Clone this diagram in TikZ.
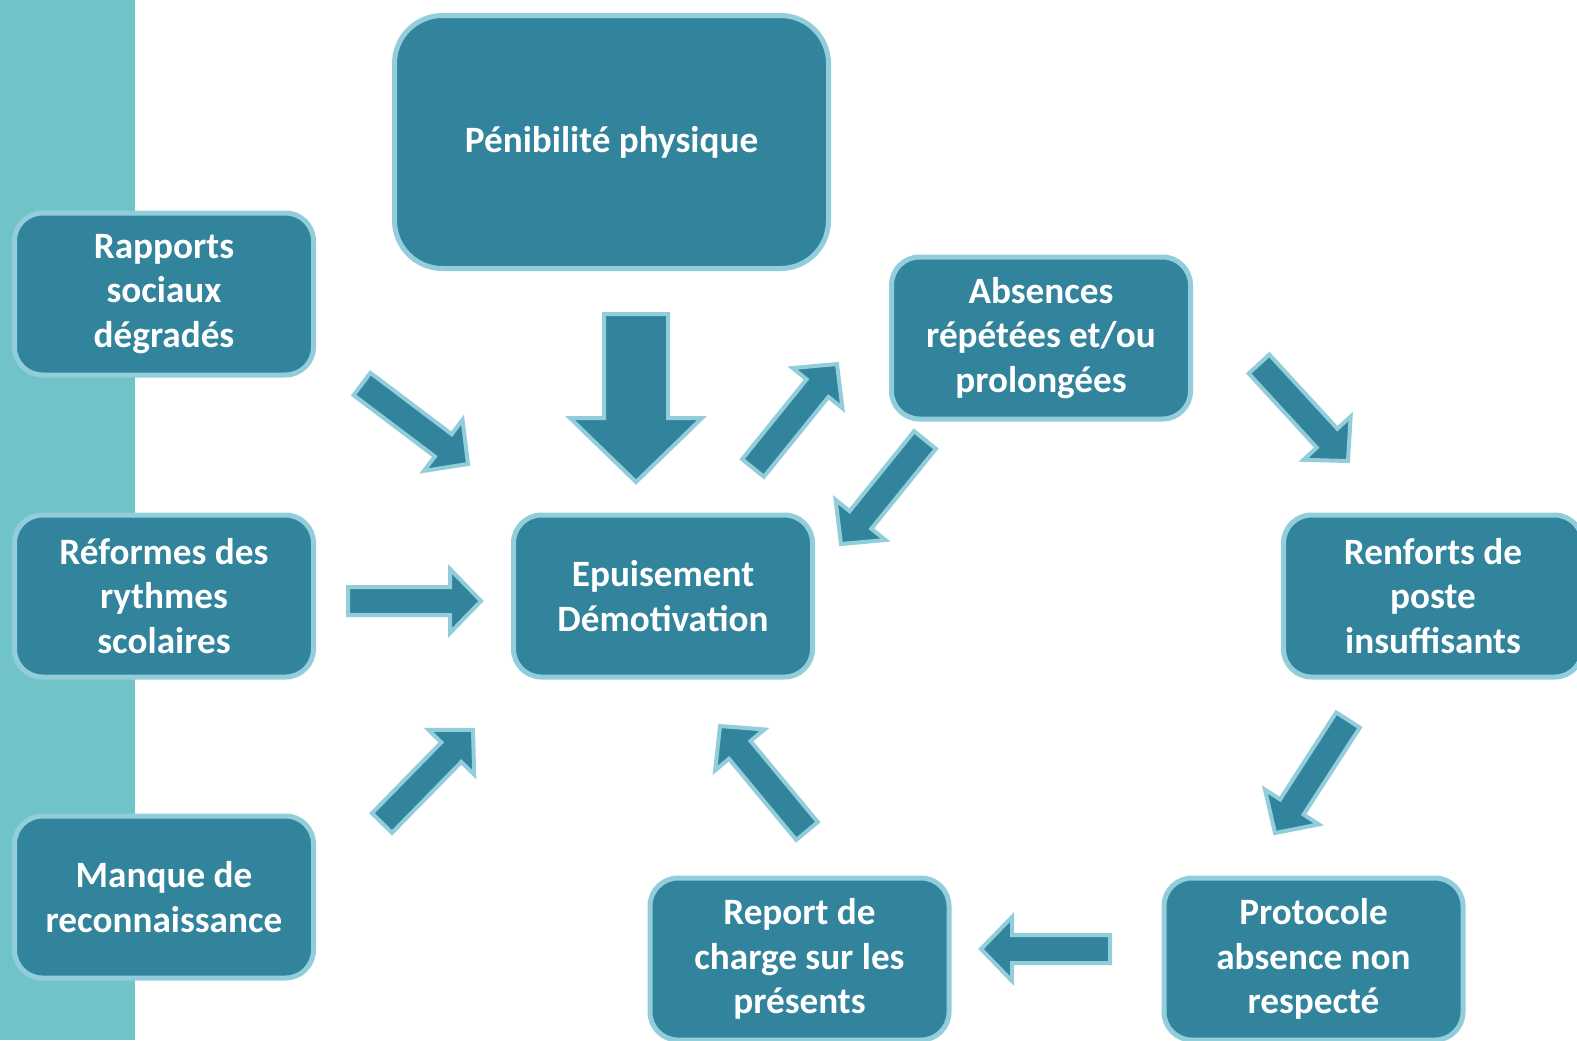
\documentclass[tikz,border=0pt]{standalone}
\usepackage{fontspec}
\setmainfont{Carlito}
\usetikzlibrary{calc}
\definecolor{boxfill}{RGB}{49,132,155}
\definecolor{boxline}{RGB}{146,205,220}
\definecolor{strip}{RGB}{112,196,200}
\tikzset{
  box/.style={draw=boxline, fill=boxfill, line width=2.5pt, rounded corners=14pt,
    minimum width=149.5pt, minimum height=81pt, align=center, text=white,
    font=\fontsize{18.6}{22.3}\selectfont\bfseries, inner sep=2pt},
  bigbox/.style={box, rounded corners=24pt, minimum width=217pt, minimum height=126.5pt},
  arrowstyle/.style={draw=boxline, fill=boxfill, line width=2pt, line join=miter},
}
\newcommand\blockarrow[5]{%
  \path ($(#2)!#5!(#1)$) coordinate (ab);
  \draw[arrowstyle] ($(#1)!#3!90:(#2)$) -- ($(ab)!#3!90:(#2)$) -- ($(ab)!#4!90:(#2)$)
    -- (#2) -- ($(ab)!#4!-90:(#2)$) -- ($(ab)!#3!-90:(#2)$) -- ($(#1)!#3!-90:(#2)$) -- cycle;}
\begin{document}
\begin{tikzpicture}[x=0.5pt, y=-0.5pt]
\useasboundingbox (0,0) rectangle (1577,1040);
\fill[white] (0,0) rectangle (1577,1040);
\fill[strip] (0,0) rectangle (135,1040);

\node[bigbox] (pen) at (611.5,142) {Pénibilité physique};
\node[box] (rap) at (164,294) {Rapports\\sociaux\\dégradés};
\node[box] (ref) at (164,596) {Réformes des\\rythmes\\scolaires};
\node[box] (man) at (164,897) {Manque de\\reconnaissance};
\node[box] (epu) at (663,596) {Epuisement\\Démotivation};
\node[box] (abs) at (1041,338) {Absences\\répétées et/ou\\prolongées};
\node[box] (ren) at (1433,596) {Renforts de\\poste\\insuffisants};
\node[box] (rep) at (799.5,959) {Report de\\charge sur les\\présents};
\node[box] (pro) at (1313.5,959) {Protocole\\absence non\\respecté};

% arrow end points
\coordinate (a1t) at (362,384);  \coordinate (a1h) at (468,464);
\coordinate (a2t) at (636,314);  \coordinate (a2h) at (636,482);
\coordinate (a3t) at (753,468);  \coordinate (a3h) at (837,364);
\coordinate (a4t) at (925,440);  \coordinate (a4h) at (841,544);
\coordinate (a5t) at (1259,364); \coordinate (a5h) at (1348,461);
\coordinate (a6t) at (1348,720); \coordinate (a6h) at (1275,833);
\coordinate (a7t) at (1110,949); \coordinate (a7h) at (981,949);
\coordinate (a8t) at (807,831);  \coordinate (a8h) at (720,726);
\coordinate (a9t) at (382,823);  \coordinate (a9h) at (473,730);
\coordinate (a10t) at (348,601); \coordinate (a10h) at (481,601);

\blockarrow{a1t}{a1h}{7pt}{16pt}{15.5pt}
\blockarrow{a2t}{a2h}{16pt}{33pt}{32pt}
\blockarrow{a3t}{a3h}{7pt}{16pt}{15.5pt}
\blockarrow{a4t}{a4h}{7pt}{16pt}{15.5pt}
\blockarrow{a5t}{a5h}{7pt}{16pt}{15.5pt}
\blockarrow{a6t}{a6h}{7pt}{16pt}{15.5pt}
\blockarrow{a7t}{a7h}{7pt}{16pt}{15.5pt}
\blockarrow{a8t}{a8h}{7pt}{16pt}{15.5pt}
\blockarrow{a9t}{a9h}{7pt}{16pt}{15.5pt}
\blockarrow{a10t}{a10h}{7pt}{16pt}{15.5pt}
\end{tikzpicture}
\end{document}
